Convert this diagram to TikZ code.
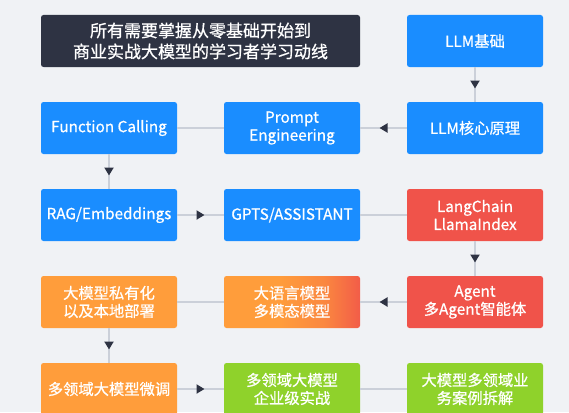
\documentclass[tikz,border=0pt]{standalone}
\usepackage{fontspec}
\setmainfont{Noto Sans CJK SC}
\newfontfamily\medfont{Noto Sans CJK SC}[FakeBold=0.7]
\usetikzlibrary{arrows.meta,decorations.markings}
\definecolor{bgc}{HTML}{F0F2F5}
\definecolor{darkc}{HTML}{2E3343}
\definecolor{bluec}{HTML}{1A8DFF}
\definecolor{redc}{HTML}{F0534A}
\definecolor{orangec}{HTML}{FF9D3B}
\definecolor{greenc}{HTML}{8FD22B}
\definecolor{linec}{HTML}{CBD0D9}
\pgfdeclarehorizontalshading{orangered}{100bp}{color(0bp)=(orangec); color(45bp)=(orangec); color(62bp)=(orangec!70!redc); color(78bp)=(redc); color(100bp)=(redc)}
\tikzset{
  box/.style={minimum width=136pt, minimum height=52pt, inner sep=0pt, rounded corners=2.5pt,
    text=white, align=center, font=\medfont\fontsize{15.3}{18}\selectfont},
  bluebox/.style={box, fill=bluec},
  redbox/.style={box, fill=redc},
  orangebox/.style={box, fill=orangec},
  greenbox/.style={box, fill=greenc},
  gradbox/.style={box, shading=orangered},
  conn/.style={draw=linec, line width=2pt},
  conna/.style={conn, postaction={decorate}, decoration={markings,
    mark=at position 0.5 with {\arrow[xshift=4pt, darkc]{Triangle[length=8pt,width=9pt]}}}}
}
\begin{document}
\begin{tikzpicture}[x=1pt,y=-1pt]
\fill[bgc] (0,0) rectangle (569,412);
\useasboundingbox (0,0) rectangle (569,412);
\begin{scope}
\clip (0,0) rectangle (569,412);
\node[box, fill=darkc, minimum width=319pt, font=\medfont\fontsize{17}{21}\selectfont] (title) at (200.5,41) {所有需要掌握从零基础开始到\\商业实战大模型的学习者学习动线};
\node[bluebox] (llmb) at (475,41) {LLM基础};
\node[bluebox] (fc) at (109,128) {Function Calling};
\node[bluebox] (pe) at (292,128) {Prompt\\Engineering};
\node[bluebox] (core) at (475,128) {LLM核心原理};
\node[bluebox] (rag) at (109,215) {RAG/Embeddings};
\node[bluebox] (gpts) at (292,215) {GPTS/ASSISTANT};
\node[redbox] (lc) at (475,215) {LangChain\\LlamaIndex};
\node[orangebox] (priv) at (109,302) {大模型私有化\\以及本地部署};
\node[gradbox] (llm) at (292,302) {大语言模型\\多模态模型};
\node[redbox] (agent) at (475,302) {Agent\\多Agent智能体};
\node[orangebox] (ft) at (109,389) {多领域大模型微调};
\node[greenbox] (ent) at (292,389) {多领域大模型\\企业级实战};
\node[greenbox] (case) at (475,389) {大模型多领域业\\务案例拆解};
\draw[conna] (llmb.south) -- (core.north);
\draw[conna] (core.west) -- (pe.east);
\draw[conn] (pe.west) -- (fc.east);
\draw[conna] (fc.south) -- (rag.north);
\draw[conna] (rag.east) -- (gpts.west);
\draw[conn] (gpts.east) -- (lc.west);
\draw[conna] (lc.south) -- (agent.north);
\draw[conna] (agent.west) -- (llm.east);
\draw[conn] (llm.west) -- (priv.east);
\draw[conna] (priv.south) -- (ft.north);
\draw[conna] (ft.east) -- (ent.west);
\draw[conn] (ent.east) -- (case.west);
\end{scope}
\end{tikzpicture}
\end{document}
